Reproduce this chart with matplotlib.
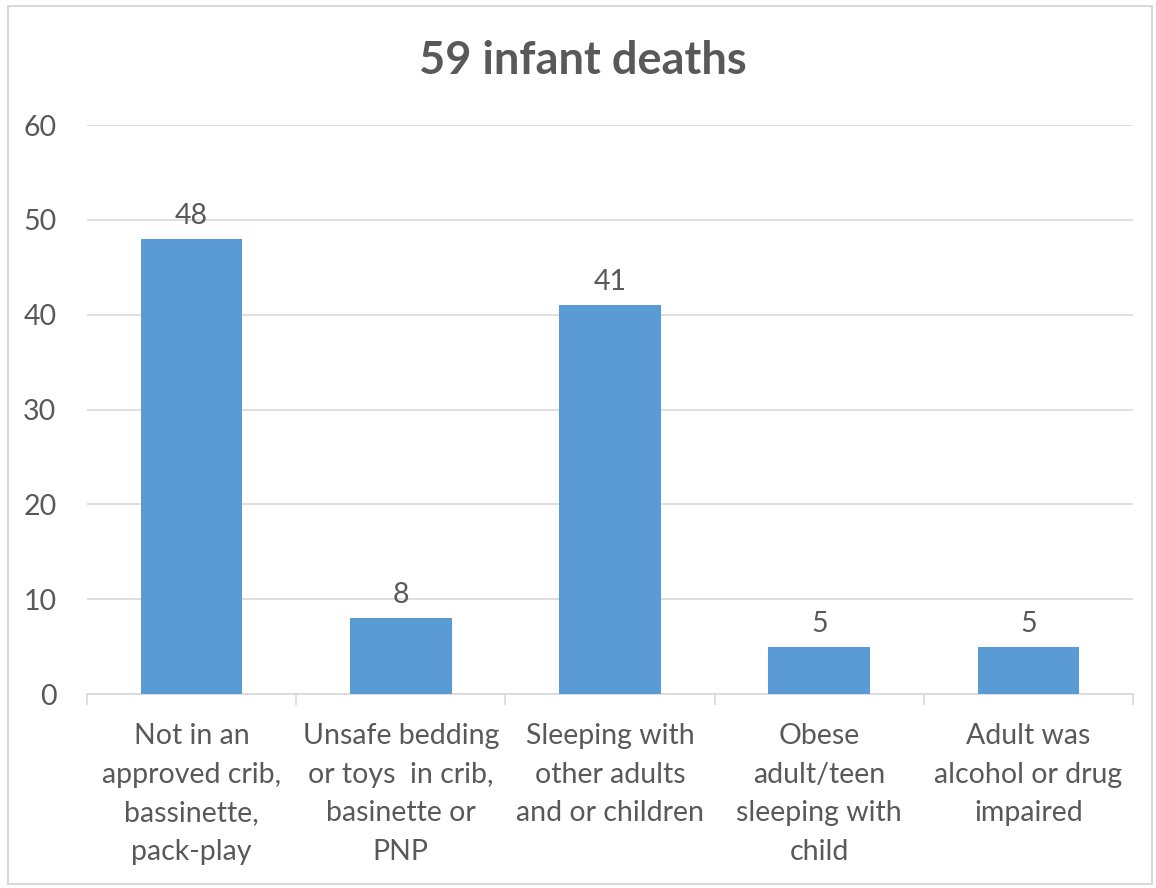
import matplotlib
matplotlib.use("Agg")
import matplotlib.pyplot as plt
from matplotlib.patches import Rectangle

categories = [
    "Not in an\napproved crib,\nbassinette,\npack-play",
    "Unsafe bedding\nor toys  in crib,\nbasinette or\nPNP",
    "Sleeping with\nother adults\nand or children",
    "Obese\nadult/teen\nsleeping with\nchild",
    "Adult was\nalcohol or drug\nimpaired",
]
deaths = [48, 8, 41, 5, 5]
y_ticks = [0, 10, 20, 30, 40, 50, 60]
title = "59 infant deaths"

BAR = "#5B9BD5"
TEXT = "#595959"
GRID = "#D9D9D9"
FONT = "Lato"
SIZE = 20.5

W, H = 1156, 888
fig = plt.figure(figsize=(W / 100, H / 100), dpi=100)
ax = fig.add_axes([87 / W, 1 - 694 / H, (1133 - 87) / W, (694 - 125) / H])

x = list(range(len(deaths)))
ax.bar(x, deaths, width=0.485, color=BAR, zorder=3)

for xi, v in zip(x, deaths):
    ax.annotate(str(v), (xi, v), xytext=(0, 10), textcoords="offset pixels",
                ha="center", va="bottom", fontsize=SIZE, color=TEXT,
                family=FONT)

ax.set_xlim(-0.5, len(deaths) - 0.5)
ax.set_ylim(0, 60)
ax.set_yticks(y_ticks)
ax.set_yticklabels([str(t) for t in y_ticks], fontsize=SIZE, color=TEXT,
                   family=FONT)
ax.tick_params(axis="y", length=0, pad=22)
ax.yaxis.grid(True, color=GRID, linewidth=1.2, zorder=0)

ax.set_xticks(x)
ax.set_xticklabels(categories, fontsize=SIZE, color=TEXT, family=FONT,
                   linespacing=1.6)
ax.tick_params(axis="x", length=0, pad=21)
ax.set_xticks([i - 0.5 for i in range(len(deaths) + 1)], minor=True)
ax.tick_params(axis="x", which="minor", length=8, width=1.2, color=GRID,
               direction="out")

for side in ("top", "right", "left"):
    ax.spines[side].set_visible(False)
ax.spines["bottom"].set_color(GRID)
ax.spines["bottom"].set_linewidth(1.2)
ax.set_axisbelow(True)

fig.text(583 / W, 1 - 61 / H, title, ha="center", va="center",
         fontsize=32.5, fontweight="bold", color=TEXT, family=FONT)

fig.patches.append(Rectangle((8 / W, 1 - 884 / H), (1152 - 8) / W,
                             (884 - 6) / H, transform=fig.transFigure,
                             fill=False, edgecolor=GRID, linewidth=1.5))

fig.savefig("out.png", dpi=100)
